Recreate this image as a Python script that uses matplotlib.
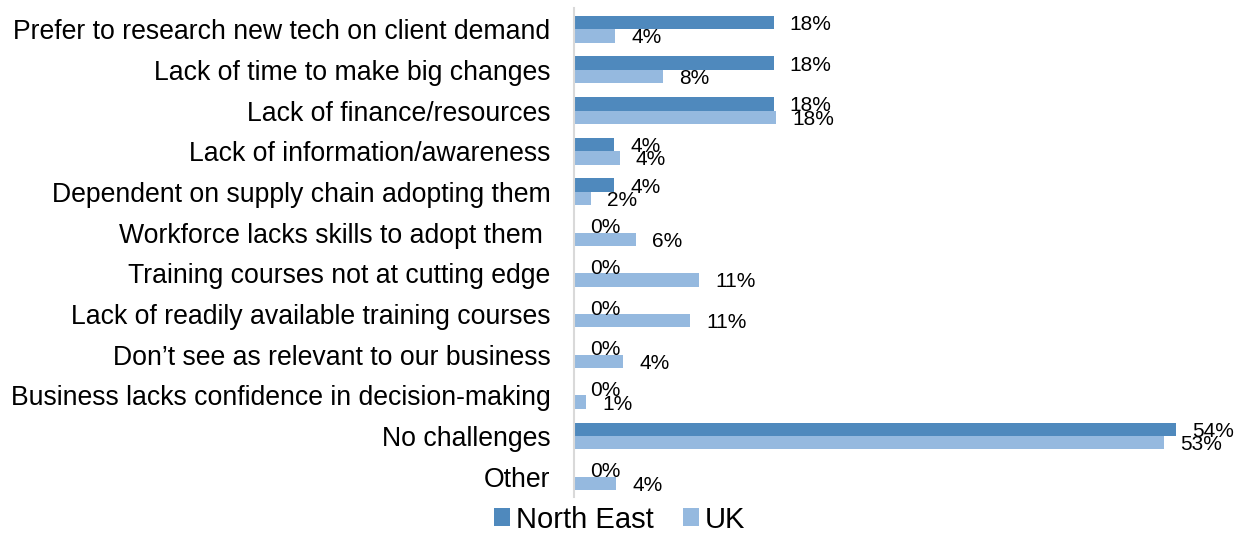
import numpy as np
import matplotlib
matplotlib.use("Agg")
from matplotlib import pyplot as plt

plt.rcParams['font.family'] = ['Liberation Sans', 'DejaVu Sans']

categories = [
    "Prefer to research new tech on client demand",
    "Lack of time to make big changes",
    "Lack of finance/resources",
    "Lack of information/awareness",
    "Dependent on supply chain adopting them",
    "Workforce lacks skills to adopt them ",
    "Training courses not at cutting edge",
    "Lack of readily available training courses",
    "Don\u2019t see as relevant to our business",
    "Business lacks confidence in decision-making",
    "No challenges",
    "Other",
]
north_east = [17.9, 17.9, 17.9, 3.6, 3.6, 0, 0, 0, 0, 0, 54.0, 0]
uk = [3.7, 8.0, 18.1, 4.1, 1.5, 5.6, 11.2, 10.4, 4.4, 1.1, 52.9, 3.8]
ne_labels = ["18%", "18%", "18%", "4%", "4%", "0%", "0%", "0%", "0%", "0%", "54%", "0%"]
uk_labels = ["4%", "8%", "18%", "4%", "2%", "6%", "11%", "11%", "4%", "1%", "53%", "4%"]

ne_color = "#4F89BD"
uk_color = "#95B9DF"

fig = plt.figure(figsize=(12.46, 5.35), dpi=100)
ax = fig.add_axes([0.4607, 0.071, 0.537, 0.914])

y = np.arange(len(categories))
h = 0.33
ax.barh(y - h / 2, north_east, height=h, color=ne_color, label="North East")
ax.barh(y + h / 2, uk, height=h, color=uk_color, label="UK")

for i in range(len(categories)):
    ax.annotate(ne_labels[i], (north_east[i], y[i] - h / 2), xytext=(16, -2),
                textcoords="offset pixels", ha="left", va="center", fontsize=15)
    ax.annotate(uk_labels[i], (uk[i], y[i] + h / 2), xytext=(16, -2),
                textcoords="offset pixels", ha="left", va="center", fontsize=15)

ax.set_xlim(0, 60)
ax.set_ylim(11.5, -0.52)
ax.set_yticks(y)
ax.set_yticklabels(categories, fontsize=19.2)
ax.tick_params(axis="y", length=0, pad=17)
ax.set_xticks([])
for s in ["top", "right", "bottom"]:
    ax.spines[s].set_visible(False)
ax.spines["left"].set_color("#D9D9D9")
ax.spines["left"].set_linewidth(1.5)

fig.legend(loc="lower center", bbox_to_anchor=(0.497, 0.0), ncol=2, frameon=False,
           fontsize=21, handlelength=0.55, handleheight=0.55, handletextpad=0.2,
           columnspacing=1.0, borderpad=0.0, borderaxespad=0.05)

fig.savefig("out.png", dpi=100)
